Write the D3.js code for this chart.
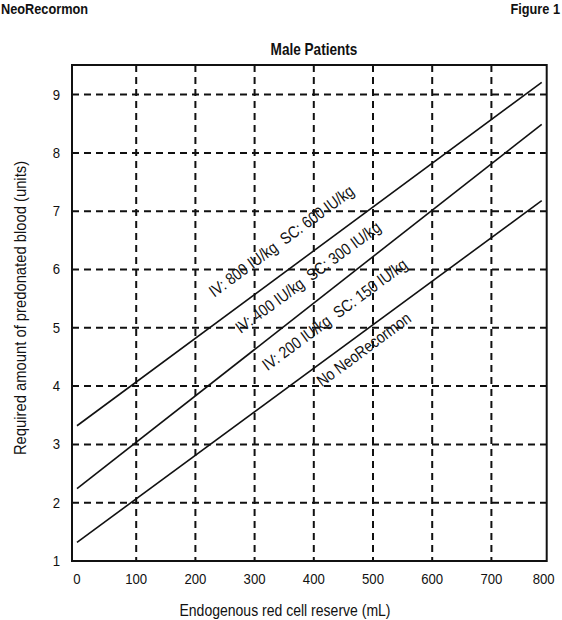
<!DOCTYPE html>
<meta charset="utf-8">
<style>
body { margin: 0; background: #fff; }
text { font-family: "Liberation Sans", Arial, sans-serif; fill: #111; }
.head { font-weight: bold; font-size: 15px; }
.grid line { stroke: #111; stroke-width: 2; stroke-dasharray: 7,5; }
.dose { fill: none; stroke: #111; stroke-width: 1.6; }
.lbl { white-space: pre; }
.tick text { font-size: 15.5px; }
.axis .domain, .axis line { display: none; }
</style>
<svg width="562" height="620"></svg>
<script src="https://d3js.org/d3.v7.min.js"></script>
<script>
// reserve (mL) at the two ends of each line
var doseX = [0, 785];
var highDose = [3.32, 9.21];
var midDose = [2.24, 8.49];
var lowDose = [1.32, 7.18];

var xTicks = [0, 100, 200, 300, 400, 500, 600, 700, 800];
var yTicks = [1, 2, 3, 4, 5, 6, 7, 8, 9];
var xGrid = [100, 200, 300, 400, 500, 600, 700];
var yGrid = [2, 3, 4, 5, 6, 7, 8, 9];

var labelTexts = ["IV: 800 IU/kg  SC: 600 IU/kg", "IV: 400 IU/kg  SC: 300 IU/kg",
                  "IV: 200 IU/kg  SC: 150 IU/kg", "No NeoRecormon"];
var labelX = [351, 396, 441, 490];
var labelY = [6.41, 5.79, 5.15, 4.55];

var svg = d3.select("svg"),
    box = {left: 72, right: 546.7, top: 65, bottom: 561},
    narrow = " scale(0.85,1)"; // the original type is a condensed face

var x = d3.scaleLinear().domain([0, 800]).range([77, 550.6]),
    y = d3.scaleLinear().domain([1, 9]).range([561, 94.6]);

function put(px, py) { return "translate(" + px + "," + py + ")" + narrow; }

svg.append("text").attr("class", "head").attr("transform", put(1, 14)).text("NeoRecormon");
svg.append("text").attr("class", "head").attr("transform", put(560, 14))
    .attr("text-anchor", "end").text("Figure 1");
svg.append("text").attr("class", "head").attr("transform", put(314, 55))
    .attr("text-anchor", "middle").style("font-size", "16px").text("Male Patients");

var grid = svg.append("g").attr("class", "grid");
grid.selectAll(".gx").data(xGrid).enter().append("line")
    .attr("x1", x).attr("x2", x)
    .attr("y1", box.top).attr("y2", box.bottom);
grid.selectAll(".gy").data(yGrid).enter().append("line")
    .attr("x1", box.left).attr("x2", box.right)
    .attr("y1", y).attr("y2", y);

var line = d3.line()
    .x(function(d) { return x(d[0]); })
    .y(function(d) { return y(d[1]); });

[highDose, midDose, lowDose].forEach(function(s) {
  svg.append("path")
      .datum(doseX.map(function(v, i) { return [v, s[i]]; }))
      .attr("class", "dose")
      .attr("d", line);
});

svg.append("rect")
    .attr("x", box.left).attr("y", box.top)
    .attr("width", box.right - box.left).attr("height", box.bottom - box.top)
    .attr("fill", "none").attr("stroke", "#111").attr("stroke-width", 2);

// angle of the lines on screen
var angle = Math.atan2(y(highDose[1]) - y(highDose[0]), x(doseX[1]) - x(doseX[0])) * 180 / Math.PI;

svg.selectAll(".lbl").data(labelTexts).enter().append("text")
    .attr("class", "lbl")
    .attr("text-anchor", "middle")
    .attr("xml:space", "preserve")
    .style("font-size", "16.5px")
    .attr("transform", function(d, i) {
      return "translate(" + x(labelX[i]) + "," + y(labelY[i]) + ") rotate(" + angle + ")" + narrow;
    })
    .text(function(d) { return d; });

var xAxis = svg.append("g")
    .attr("class", "axis")
    .attr("transform", "translate(0," + box.bottom + ")")
    .call(d3.axisBottom(x).tickValues(xTicks).tickSize(0).tickPadding(12));
xAxis.selectAll(".tick")
    .attr("transform", function(d) {
      return "translate(" + Math.max(box.left + 1, Math.min(box.right - 3, x(d))) + ",0)" + narrow;
    });

var yAxis = svg.append("g")
    .attr("class", "axis")
    .attr("transform", "translate(" + (box.left - 12) + ",0)")
    .call(d3.axisLeft(y).tickValues(yTicks).tickSize(0).tickPadding(0));
yAxis.selectAll(".tick")
    .attr("transform", function(d) { return "translate(0," + y(d) + ")" + narrow; });

svg.append("text")
    .attr("transform", put(285, 616))
    .attr("text-anchor", "middle")
    .style("font-size", "16.5px")
    .text("Endogenous red cell reserve (mL)");

svg.append("text")
    .attr("transform", "translate(25.5,308) rotate(-90) scale(0.87,1)")
    .attr("text-anchor", "middle")
    .style("font-size", "17px")
    .text("Required amount of predonated blood (units)");
</script>
